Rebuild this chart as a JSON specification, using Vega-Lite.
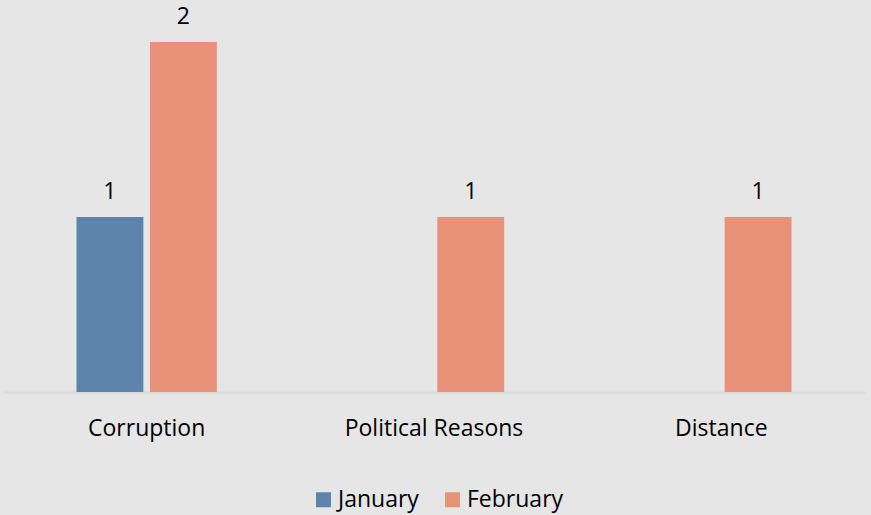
{
  "$schema": "https://vega.github.io/schema/vega-lite/v6.json",
  "width": 862,
  "height": 392,
  "autosize": "none",
  "padding": {"left": 3, "top": 0, "right": 6, "bottom": 123},
  "background": "#e6e6e6",
  "config": {
    "view": {"stroke": null},
    "font": "Open Sans"
  },
  "data": {
    "values": [
      {"reason": "Corruption", "month": "January", "count": 1},
      {"reason": "Corruption", "month": "February", "count": 2},
      {"reason": "Political Reasons", "month": "February", "count": 1},
      {"reason": "Distance", "month": "February", "count": 1}
    ]
  },
  "encoding": {
    "x": {
      "field": "reason", "type": "nominal",
      "sort": ["Corruption", "Political Reasons", "Distance"],
      "scale": {"paddingInner": 0, "paddingOuter": 0},
      "axis": {
        "title": null, "labelAngle": 0, "ticks": false,
        "domainColor": "#d9d9d9", "domainWidth": 2,
        "labelFontSize": 23, "labelColor": "#000000", "labelPadding": 25,
        "labelFont": "Open Sans"
      }
    },
    "xOffset": {
      "field": "month", "type": "nominal",
      "sort": ["January", "February"],
      "scale": {"domain": ["January", "February"], "paddingInner": 0.09, "paddingOuter": 1}
    },
    "y": {
      "field": "count", "type": "quantitative",
      "scale": {"domain": [0, 2.24], "nice": false},
      "axis": null
    }
  },
  "layer": [
    {
      "mark": {"type": "bar"},
      "encoding": {
        "color": {
          "field": "month", "type": "nominal",
          "sort": ["January", "February"],
          "scale": {"domain": ["January", "February"], "range": ["#5e84ab", "#e8927a"]},
          "legend": {
            "title": null, "orient": "none", "direction": "horizontal",
            "legendX": 309, "legendY": 488,
            "symbolType": "square", "symbolSize": 225, "symbolStrokeWidth": 0,
            "labelFontSize": 23, "labelColor": "#000000", "labelFont": "Open Sans",
            "columnPadding": 22, "labelOffset": 3
          }
        }
      }
    },
    {
      "mark": {"type": "text", "dy": -25, "fontSize": 23, "color": "#000000", "font": "Open Sans"},
      "encoding": {
        "text": {"field": "count", "type": "quantitative"}
      }
    }
  ]
}
